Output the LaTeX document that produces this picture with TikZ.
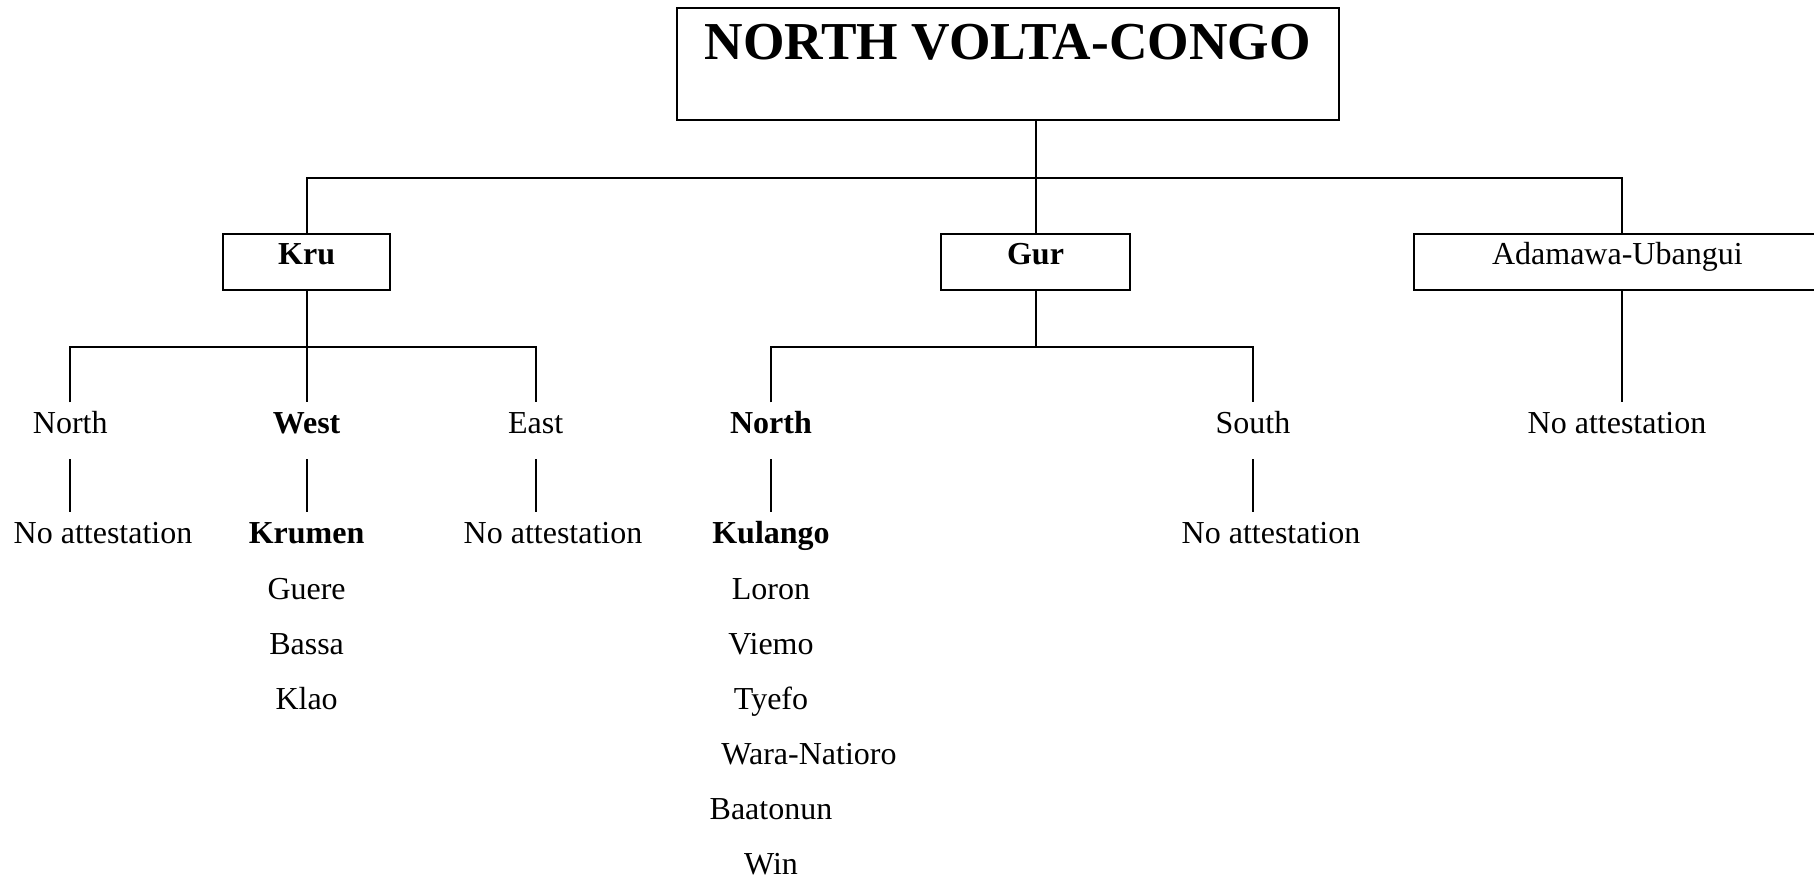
\documentclass[tikz,border=0pt]{standalone}
\usepackage{fontspec}
\setmainfont{Liberation Serif}
\begin{document}
\begin{tikzpicture}[x=0.375pt,y=-0.375pt,
  font=\fontsize{12pt}{14pt}\selectfont,
  line width=0.75pt,
  bold/.style={font=\fontsize{12pt}{14pt}\selectfont\bfseries},
  famb/.style={draw, line width=0.75pt, inner sep=0pt, anchor=base,
    text height=11.6pt, text depth=9.7pt},
  lbl/.style={inner sep=0pt, anchor=base, text height=11.3pt, text depth=9.3pt},
  item/.style={inner sep=0pt, anchor=base}]
\useasboundingbox (0,0) rectangle (1814,877);

% root
\node[famb, text height=19.3pt, text depth=22.7pt, minimum width=248.1pt,
  font=\fontsize{20pt}{24pt}\selectfont\bfseries] (root) at (1007.7,59.5) {NORTH VOLTA-CONGO};

% first-level families
\node[famb, minimum width=62.6pt, bold] (kru) at (306.6,264.5) {Kru};
\node[famb, minimum width=71pt, bold] (gur) at (1035.5,264.5) {Gur};
\node[famb, minimum width=156pt] (ada) at (1622,264.5) {\hspace*{-3.5pt}Adamawa-Ubangui};

\coordinate (bar) at (1035.5,178);
\draw (root.south -| gur.north) -- (gur.north);
\draw (kru.north) |- (bar) -| (ada.north);

% Kru branches
\node[lbl] (krN) at (70.3,433.5) {North};
\node[lbl, bold] (krW) at (306.6,433.5) {West};
\node[lbl] (krE) at (535.6,433.5) {East};
\coordinate (krubar) at (306.6,347);
\draw (kru.south) -- (krW.north);
\draw (krN.north) |- (krubar) -| (krE.north);

\node[lbl] (krNna) at (103,543.5) {No attestation};
\node[lbl, bold] (krumen) at (306.6,543.5) {Krumen};
\node[lbl] (krEna) at (553,543.5) {No attestation};
\draw (krN.south) -- (krN.south |- krNna.north);
\draw (krW.south) -- (krumen.north);
\draw (krE.south) -- (krE.south |- krEna.north);

\node[item] (guere) at (306.6,599) {Guere};
\node[item] (bassa) at (306.6,654) {Bassa};
\node[item] (klao) at (306.6,709) {Klao};

% Gur branches
\node[lbl, bold] (guN) at (771,433.5) {North};
\node[lbl] (guS) at (1253,433.5) {South};
\coordinate (gurbar) at (1035.5,347);
\draw (gur.south) -- (gurbar);
\draw (guN.north) |- (gurbar) -| (guS.north);

\node[lbl, bold] (kulango) at (771,543.5) {Kulango};
\node[lbl] (guSna) at (1271,543.5) {No attestation};
\draw (guN.south) -- (kulango.north);
\draw (guS.south) -- (guS.south |- guSna.north);

\node[item] (loron) at (771,599) {Loron};
\node[item] (viemo) at (771,654) {Viemo};
\node[item] (tyefo) at (771,709) {Tyefo};
\node[item] (wara) at (809,764) {Wara-Natioro};
\node[item] (baatonun) at (771,819) {Baatonun};
\node[item] (win) at (771,874) {Win};

% Adamawa-Ubangui branch
\node[lbl] (adana) at (1617,433.5) {No attestation};
\draw (ada.south) -- (ada.south |- adana.north);
\end{tikzpicture}
\end{document}
